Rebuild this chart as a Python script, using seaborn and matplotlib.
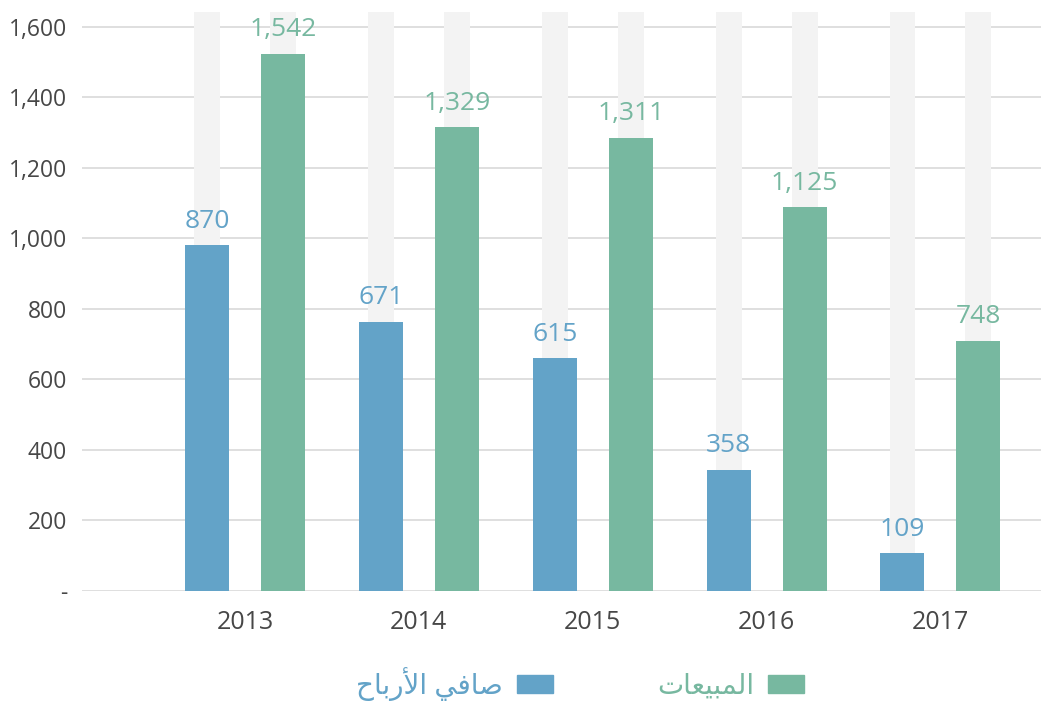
import matplotlib
matplotlib.use("Agg")
import matplotlib.pyplot as plt
from matplotlib.patches import Patch
from matplotlib.ticker import FuncFormatter, FixedLocator
import seaborn as sns
import pandas as pd

# ---------------- data ----------------
years = ["2013", "2014", "2015", "2016", "2017"]
# bar heights as drawn in the reference
net_profit = [981, 763, 660, 343, 107]
sales = [1524, 1316, 1285, 1089, 709]
# value labels printed above the bars
net_profit_labels = [870, 671, 615, 358, 109]
sales_labels = [1542, 1329, 1311, 1125, 748]
y_ticks = [0, 200, 400, 600, 800, 1000, 1200, 1400, 1600]

# series names (logical order) and their shaped display form
profit_name = "صافي الأرباح"
sales_name = "المبيعات"
profit_display = "\uFEA1\uFE8E\uFE91\uFEAD\uFEF7\uFE8D \uFEF2\uFED3\uFE8E\uFEBB"
sales_display = "\uFE95\uFE8E\uFECC\uFEF4\uFE92\uFEE4\uFEDF\uFE8D"

BLUE = "#63a3c8"
GREEN = "#77b8a0"
BG = "#f3f3f3"
GRID = "#d9d9d9"
TXT = "#474747"

sns.set_theme(style="white")
plt.rcParams["font.family"] = ["Open Sans", "DejaVu Sans"]

W, H = 1041, 707
fig = plt.figure(figsize=(W / 100, H / 100), dpi=100)
ax_left, ax_right, ax_top, ax_bottom = 82, 1041, 12, 590.7
ax = fig.add_axes([ax_left / W, (H - ax_bottom) / H,
                   (ax_right - ax_left) / W, (ax_bottom - ax_top) / H])

Y_TOP = 1642.6
df = pd.DataFrame({
    "year": years * 2,
    "series": [profit_name] * len(years) + [sales_name] * len(years),
    "value": net_profit + sales,
})
df["bg"] = Y_TOP
hue_order = [profit_name, sales_name]

# light background columns
sns.barplot(data=df, x="year", y="bg", hue="series", hue_order=hue_order,
            order=years, palette=[BG, BG], width=0.874, gap=0.658,
            saturation=1, legend=False, ax=ax, zorder=1, errorbar=None,
            linewidth=0, edgecolor="none")
# data bars
sns.barplot(data=df, x="year", y="value", hue="series", hue_order=hue_order,
            order=years, palette=[BLUE, GREEN], width=0.874, gap=0.421,
            saturation=1, legend=False, ax=ax, zorder=2, errorbar=None,
            linewidth=0, edgecolor="none")

ax.set_xlim(-0.937, 4.578)
ax.set_ylim(0, Y_TOP)

# value labels
data_containers = ax.containers[2:]
for cont, labels, col in zip(data_containers, [net_profit_labels, sales_labels], [BLUE, GREEN]):
    for bar, lab in zip(cont, labels):
        ax.annotate(f"{lab:,}", (bar.get_x() + bar.get_width() / 2, bar.get_height()),
                    xytext=(0, 12.6), textcoords="offset points",
                    ha="center", va="baseline", fontsize=19, color=col, zorder=3)

# axes styling
for s in ax.spines.values():
    s.set_visible(False)
ax.yaxis.set_major_locator(FixedLocator(y_ticks))
ax.yaxis.set_major_formatter(FuncFormatter(lambda v, p: "-" if v == 0 else f"{v:,.0f}"))
ax.grid(axis="y", color=GRID, linewidth=1.2, zorder=0)
ax.grid(axis="x", visible=False)
ax.set_axisbelow(True)
ax.tick_params(axis="y", length=0, pad=10.8, labelsize=16.5, labelcolor=TXT)
ax.tick_params(axis="x", length=0, pad=14, labelsize=18, labelcolor=TXT)
ax.set_xlabel("")
ax.set_ylabel("")

# legend (right-to-left: text left of the swatch)
fs = 20
px = fs * 100 / 72
leg = ax.legend(handles=[Patch(color=BLUE, label=profit_display),
                         Patch(color=GREEN, label=sales_display)],
                loc="center", bbox_to_anchor=(580 / W, (H - 684) / H),
                bbox_transform=fig.transFigure, ncol=2, frameon=False,
                markerfirst=False, fontsize=fs, handlelength=36 / px,
                handleheight=18 / px, handletextpad=14 / px,
                columnspacing=104 / px, borderpad=0, borderaxespad=0)
for t, c in zip(leg.get_texts(), [BLUE, GREEN]):
    t.set_color(c)

fig.savefig("out.png", dpi=100)
